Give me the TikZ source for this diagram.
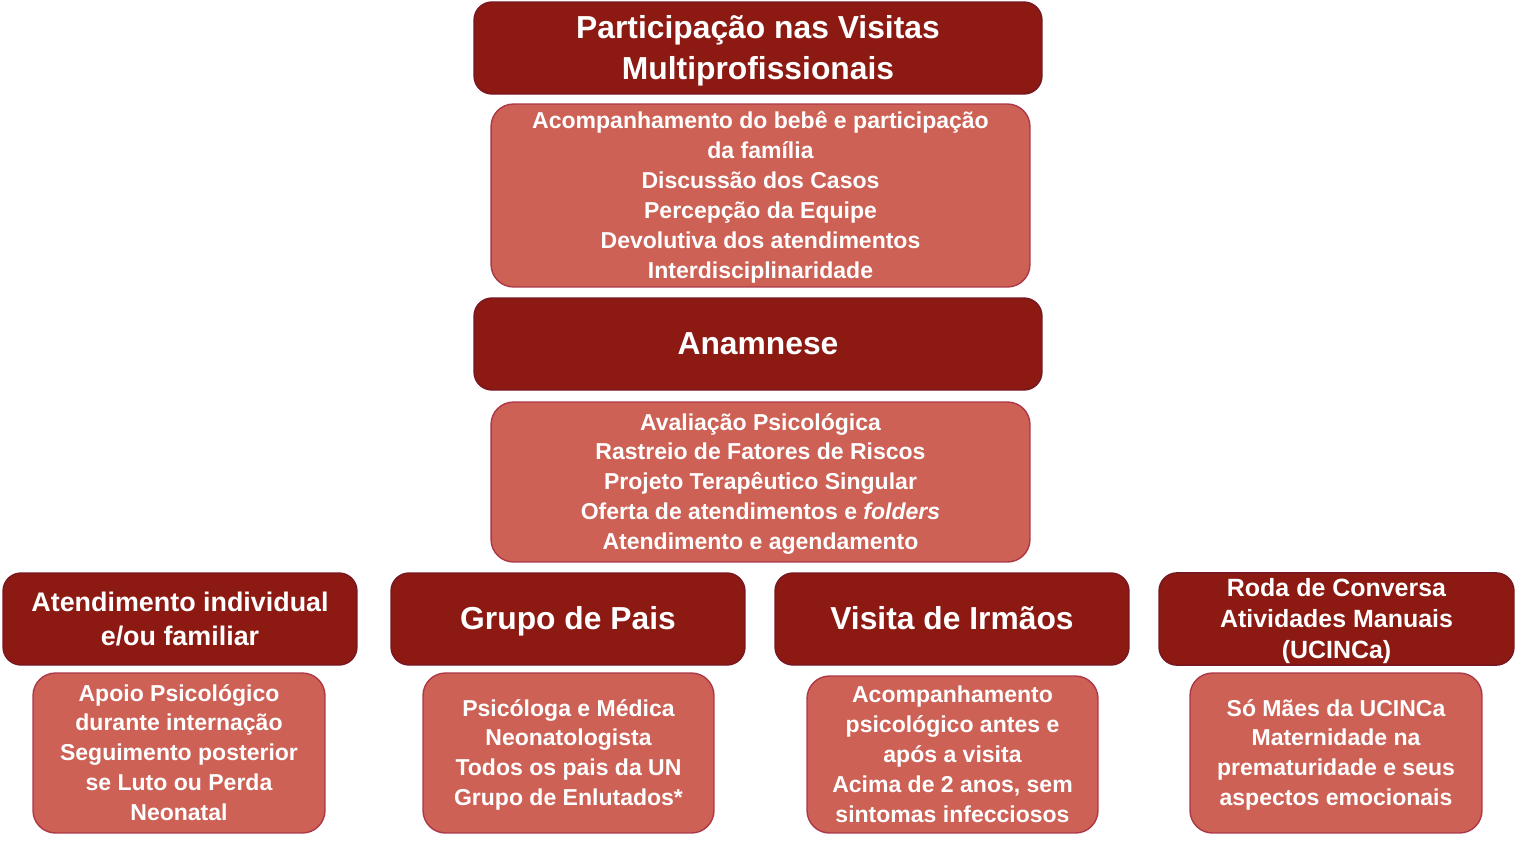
\documentclass[tikz,border=0pt]{standalone}
\usepackage{fontspec}
\setmainfont{Liberation Sans}
\definecolor{darkred}{RGB}{140,25,18}
\definecolor{darkline}{RGB}{120,22,34}
\definecolor{lightred}{RGB}{205,97,85}
\definecolor{lightline}{RGB}{172,56,72}
% struts for even vertical centring of the text
\newcommand{\toprule}{\rule{0pt}{0.95em}}
\newcommand{\botrule}{\rule[-0.27em]{0pt}{0pt}}
\begin{document}
\begin{tikzpicture}[x=0.02cm, y=-0.02cm,
  box/.style = {line width=0.8pt, text=white, align=center, inner sep=0pt},
  head/.style = {box, draw=darkline, fill=darkred, rounded corners=0.36cm, minimum height=1.84cm, font=\bfseries\fontsize{18.1}{23.4}\selectfont},
  body/.style = {box, draw=lightline, fill=lightred, rounded corners=0.45cm, minimum height=3.2cm, font=\bfseries\fontsize{13.1}{17}\selectfont}]
\useasboundingbox (0,0) rectangle (1516,840);
\node[head, minimum width=11.36cm] (visitas) at (758,48) {\toprule Participação nas Visitas\\Multiprofissionais\botrule};
\node[body, minimum width=10.78cm, minimum height=3.66cm] (visitasbox) at (760.5,195.5) {\toprule Acompanhamento do bebê e participação\\da família\\Discussão dos Casos\\Percepção da Equipe\\Devolutiva dos atendimentos\\Interdisciplinaridade\botrule};
\node[head, minimum width=11.36cm] (anamnese) at (758,344) {\toprule Anamnese\botrule};
\node[body, minimum width=10.78cm] (anamnesebox) at (760.5,482) {\toprule Avaliação Psicológica\\Rastreio de Fatores de Riscos\\Projeto Terapêutico Singular\\Oferta de atendimentos e \textit{folders}\\Atendimento e agendamento\botrule};
% bottom row
\node[head, minimum width=7.08cm, font=\bfseries\fontsize{15.3}{19.3}\selectfont] (individual) at (180,619) {\toprule Atendimento individual\\e/ou familiar\botrule};
\node[head, minimum width=7.08cm] (pais) at (568,619) {\toprule Grupo de Pais\botrule};
\node[head, minimum width=7.08cm] (irmaos) at (952,619) {\toprule Visita de Irmãos\botrule};
\node[head, minimum width=7.1cm, font=\bfseries\fontsize{14.2}{17.6}\selectfont] (roda) at (1336.5,619) {\toprule Roda de Conversa\\Atividades Manuais\\(UCINCa)\botrule};
\node[body, minimum width=5.84cm] (individualbox) at (179,753) {\toprule Apoio Psicológico\\durante internação\\Seguimento posterior\\se Luto ou Perda\\Neonatal\botrule};
\node[body, minimum width=5.82cm] (paisbox) at (568.5,753) {\toprule Psicóloga e Médica\\Neonatologista\\Todos os pais da UN\\Grupo de Enlutados*\botrule};
\node[body, minimum width=5.82cm, minimum height=3.14cm] (irmaosbox) at (952.5,754.5) {\toprule Acompanhamento\\psicológico antes e\\após a visita\\Acima de 2 anos, sem\\sintomas infecciosos\botrule};
\node[body, minimum width=5.84cm] (rodabox) at (1336,753) {\toprule Só Mães da UCINCa\\Maternidade na\\prematuridade e seus\\aspectos emocionais\botrule};
\end{tikzpicture}
\end{document}
